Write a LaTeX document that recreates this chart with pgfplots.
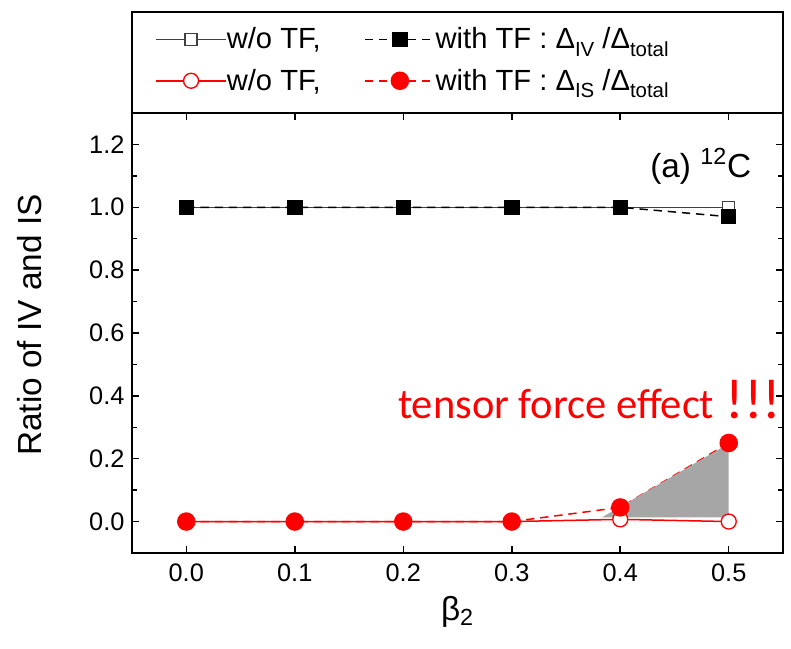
\documentclass[border=0pt]{standalone}
\usepackage{pgfplots}
\pgfplotsset{compat=1.18}
\usepackage{fontspec}
\setmainfont{Liberation Sans}
\newfontfamily\carlito{Carlito}
\definecolor{shade}{HTML}{A6A6A6}
\definecolor{darkline}{HTML}{404040}
\newcommand\sub[1]{\raisebox{-0.27em}{\fontsize{12.25}{14}\selectfont #1}}
\begin{document}
\begin{tikzpicture}
\begin{axis}[
  scale only axis, width=390.6pt, height=264pt,
  xmin=-0.05, xmax=0.55, ymin=-0.1, ymax=1.3,
  xtick={0,0.1,0.2,0.3,0.4,0.5},
  ytick={0,0.2,0.4,0.6,0.8,1.0,1.2},
  minor y tick num=1,
  /pgf/number format/.cd, fixed, fixed zerofill, precision=1, assume math mode=true,
  /pgfplots/.cd,
  tick label style={font=\fontsize{15.2}{18}\selectfont},
  xticklabel style={yshift=-3pt},
  yticklabel style={xshift=-1pt},
  major tick length=4.2pt, minor tick length=2.8pt,
  axis line style={line width=1.1pt},
  every tick/.style={line width=0.9pt, black},
  xlabel={β\textsubscript{2}}, ylabel={Ratio of IV and IS},
  label style={font=\fontsize{20}{24}\selectfont},
  xlabel style={yshift=-2pt},
  ylabel style={at={(rel axis cs:-0.1567,0.518)}, anchor=center},
  clip=false,
  legend columns=2,
  legend cell align=left,
  legend style={draw=none, fill=none, inner sep=0pt, at={(rel axis cs:0.0353,1.12)}, anchor=west,
    font=\fontsize{17.5}{21}\selectfont, row sep=10.5pt,
    nodes={inner xsep=0pt, inner ysep=0pt},
    /tikz/every even column/.append style={column sep=26pt}},
  legend image code/.code={\draw[mark repeat=2,mark phase=2,#1] plot coordinates {(0pt,0pt) (21pt,0pt) (42pt,0pt)};},
]
\addplot[darkline, line width=0.9pt, mark=square*, mark size=3.6pt, mark options={solid, fill=white, line width=0.8pt}]
  coordinates {(0,1) (0.1,1) (0.2,1) (0.3,1) (0.4,1) (0.5,1)};
\addlegendentry{w/o TF,}
\addplot[black, line width=0.9pt, dash pattern=on 5pt off 3.5pt, mark=square*, mark size=4.2pt, mark options={solid}]
  coordinates {(0,1) (0.1,1) (0.2,1) (0.3,1) (0.4,1) (0.5,0.97)};
\addlegendentry{with TF : Δ\sub{IV} /Δ\sub{total}}
\addplot[red, line width=0.9pt, mark=*, mark size=4.5pt, mark options={solid, fill=white, line width=0.8pt}]
  coordinates {(0,0) (0.1,0) (0.2,0) (0.3,0) (0.4,0.007) (0.5,0.0)};
\addlegendentry{w/o TF,}
\addplot[red, line width=0.9pt, dash pattern=on 5pt off 3.5pt, mark=*, mark size=5.1pt, mark options={solid}]
  coordinates {(0,0) (0.1,0) (0.2,0) (0.3,0) (0.4,0.045) (0.5,0.25)};
\addlegendentry{with TF : Δ\sub{IS} /Δ\sub{total}}
\addplot[fill=shade, draw=none, forget plot]
  coordinates {(0.383,0.013) (0.5,0.248) (0.5,0.013)} -- cycle;
\draw[line width=1.1pt] (rel axis cs:0,1) rectangle (rel axis cs:1,1.2295);
\node[anchor=base west, text=red, inner sep=0pt] at (axis cs:0.195,0.328)
  {\carlito{\fontsize{25.5}{30}\selectfont tensor force effect}\hspace{7pt}{\fontsize{34}{40}\selectfont !!!}};
\node[anchor=base east, inner sep=0pt, font=\fontsize{20}{24}\selectfont] at (axis cs:0.521,1.096)
  {(a) \textsuperscript{12}C};
\coordinate (bl) at (rel axis cs:-0.2028,-0.2182);
\coordinate (tr) at (rel axis cs:1.0123,1.2568);
\end{axis}
\pgfresetboundingbox
\path (bl) rectangle (tr);
\end{tikzpicture}
\end{document}
